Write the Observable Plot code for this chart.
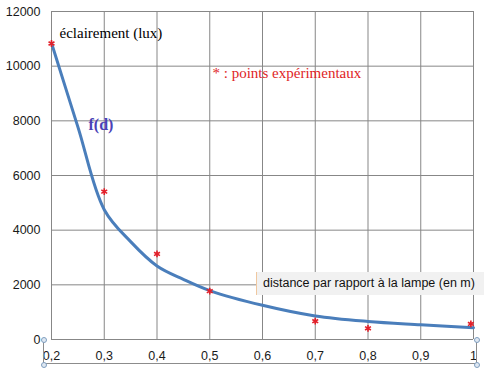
<!DOCTYPE html>
<html><head><meta charset="utf-8">
<script src="https://cdn.jsdelivr.net/npm/d3@7"></script>
<script src="https://cdn.jsdelivr.net/npm/@observablehq/plot@0.6"></script>
<style>
body{margin:0;background:#fff}
#wrap{position:relative;width:484px;height:372px;overflow:hidden}
#wrap svg{position:absolute;left:0;top:0}
.box{position:absolute;left:43px;top:339px;width:432px;height:24px;border:1px solid #8c8c8c;border-top:none;box-sizing:content-box}
.h{position:absolute;width:4px;height:4px;border:1px solid #7f9ebf;border-radius:50%;background:#dfe8f2}
.dist{position:absolute;left:256px;top:272px;width:228px;height:23px;background:#f1f1f1;font:12.5px "Liberation Sans",Arial,sans-serif;color:#111;line-height:23px;padding-left:6px;box-sizing:border-box;border-left:1px solid #f0c8a0}
</style>
</head><body><div id="wrap"></div>
<script>
// experimental points
const pointD = [0.2, 0.3, 0.4, 0.5, 0.7, 0.8, 0.995];
const pointLux = [10830, 5410, 3130, 1770, 670, 410, 570];
// fitted curve f(d)
const curveD = [0.2, 0.25, 0.3, 0.35, 0.4, 0.45, 0.5, 0.6, 0.7, 0.8, 0.9, 1.0];
const curveLux = [10850, 7780, 4750, 3580, 2690, 2200, 1790, 1250, 860, 660, 540, 430];
// ticks
const xTicks = [0.2, 0.3, 0.4, 0.5, 0.6, 0.7, 0.8, 0.9, 1.0];
const yTicks = [0, 2000, 4000, 6000, 8000, 10000, 12000];

const points = pointD.map((d, i) => ({d, lux: pointLux[i]}));
const curve = curveD.map((d, i) => ({d, lux: curveLux[i]}));
const fmtX = v => String(+v.toFixed(1)).replace(".", ",");

const serif = "Liberation Serif, DejaVu Serif, Times New Roman, serif";
const grid = "#878787";
const chart = Plot.plot({
  width: 484, height: 372,
  marginLeft: 51, marginRight: 11, marginTop: 11, marginBottom: 33,
  style: {fontSize: "12.5px", color: "#1a1a1a", background: "transparent"},
  x: {domain: [0.2, 1.0], label: null},
  y: {domain: [0, 12000], label: null},
  marks: [
    Plot.gridX(xTicks, {stroke: grid, strokeOpacity: 1}),
    Plot.gridY(yTicks, {stroke: grid, strokeOpacity: 1}),
    Plot.axisX(xTicks, {tickSize: 0, tickPadding: 12, tickFormat: fmtX, label: null, fontFamily: "Liberation Sans, Arial, sans-serif"}),
    Plot.axisY(yTicks, {tickSize: 0, tickPadding: 11, tickFormat: d => String(d), label: null, fontFamily: "Liberation Sans, Arial, sans-serif"}),
    Plot.line(curve, {x: "d", y: "lux", curve: "catmull-rom", stroke: "#4a7ebb", strokeWidth: 3}),
    Plot.dot(points, {x: "d", y: "lux", symbol: "asterisk", r: 3.2, stroke: "#e3202a", strokeWidth: 1.6}),
    Plot.text(["éclairement (lux)"], {frameAnchor: "top-left", dx: 8, dy: 22, textAnchor: "start", lineAnchor: "middle", fontFamily: serif, fontSize: 15, fill: "#000"}),
    Plot.text(["f(d)"], {frameAnchor: "top-left", dx: 37, dy: 113, textAnchor: "start", lineAnchor: "middle", fontFamily: serif, fontSize: 16, fontWeight: "bold", fill: "#4a42b6"}),
    Plot.text(["* : points expérimentaux"], {frameAnchor: "top-left", dx: 161, dy: 62, textAnchor: "start", lineAnchor: "middle", fontFamily: serif, fontSize: 15, fill: "#e01e26"})
  ]
});
const wrap = document.getElementById("wrap");
wrap.appendChild(chart);
const box = document.createElement("div"); box.className = "box"; wrap.appendChild(box);
for (const [l, t] of [[41, 337], [41, 362], [474, 337], [474, 362]]) {
  const h = document.createElement("div"); h.className = "h"; h.style.left = l + "px"; h.style.top = t + "px"; wrap.appendChild(h);
}
const dist = document.createElement("div"); dist.className = "dist"; dist.textContent = "distance par rapport à la lampe (en m)"; wrap.appendChild(dist);
</script>
</body></html>
